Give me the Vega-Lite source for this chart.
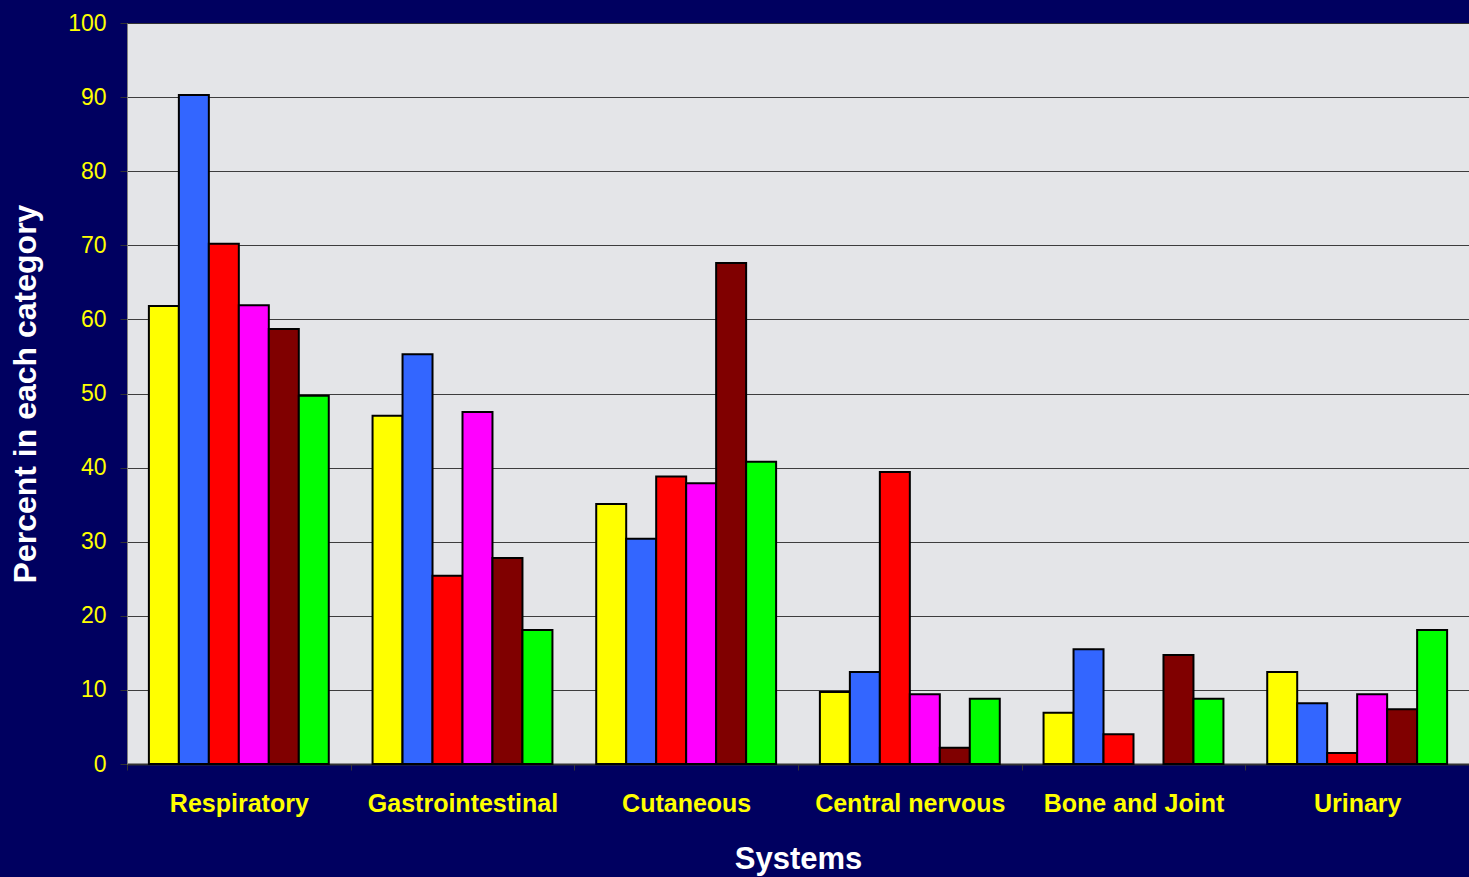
{
  "$schema": "https://vega.github.io/schema/vega-lite/v6.json",
  "autosize": "none",
  "width": 1342,
  "height": 741,
  "padding": {"left": 127, "top": 23, "right": 0, "bottom": 113},
  "background": "#000060",
  "config": {
    "view": {"fill": "#e4e5e8", "stroke": "#808080", "strokeWidth": 1},
    "font": "Liberation Sans"
  },
  "data": {
    "values": [
      {"system": "Respiratory", "series": "S1", "value": 61.8},
      {"system": "Respiratory", "series": "S2", "value": 90.3},
      {"system": "Respiratory", "series": "S3", "value": 70.2},
      {"system": "Respiratory", "series": "S4", "value": 61.9},
      {"system": "Respiratory", "series": "S5", "value": 58.7},
      {"system": "Respiratory", "series": "S6", "value": 49.7},
      {"system": "Gastrointestinal", "series": "S1", "value": 47.0},
      {"system": "Gastrointestinal", "series": "S2", "value": 55.3},
      {"system": "Gastrointestinal", "series": "S3", "value": 25.4},
      {"system": "Gastrointestinal", "series": "S4", "value": 47.5},
      {"system": "Gastrointestinal", "series": "S5", "value": 27.8},
      {"system": "Gastrointestinal", "series": "S6", "value": 18.1},
      {"system": "Cutaneous", "series": "S1", "value": 35.1},
      {"system": "Cutaneous", "series": "S2", "value": 30.4},
      {"system": "Cutaneous", "series": "S3", "value": 38.8},
      {"system": "Cutaneous", "series": "S4", "value": 37.9},
      {"system": "Cutaneous", "series": "S5", "value": 67.6},
      {"system": "Cutaneous", "series": "S6", "value": 40.8},
      {"system": "Central nervous", "series": "S1", "value": 9.7},
      {"system": "Central nervous", "series": "S2", "value": 12.4},
      {"system": "Central nervous", "series": "S3", "value": 39.4},
      {"system": "Central nervous", "series": "S4", "value": 9.4},
      {"system": "Central nervous", "series": "S5", "value": 2.2},
      {"system": "Central nervous", "series": "S6", "value": 8.8},
      {"system": "Bone and Joint", "series": "S1", "value": 6.9},
      {"system": "Bone and Joint", "series": "S2", "value": 15.5},
      {"system": "Bone and Joint", "series": "S3", "value": 4.0},
      {"system": "Bone and Joint", "series": "S4", "value": 0},
      {"system": "Bone and Joint", "series": "S5", "value": 14.7},
      {"system": "Bone and Joint", "series": "S6", "value": 8.8},
      {"system": "Urinary", "series": "S1", "value": 12.4},
      {"system": "Urinary", "series": "S2", "value": 8.2},
      {"system": "Urinary", "series": "S3", "value": 1.5},
      {"system": "Urinary", "series": "S4", "value": 9.4},
      {"system": "Urinary", "series": "S5", "value": 7.4},
      {"system": "Urinary", "series": "S6", "value": 18.1}
    ]
  },
  "transform": [{"filter": "datum.value > 0"}],
  "mark": {"type": "bar", "stroke": "#000000", "strokeWidth": 2},
  "encoding": {
    "x": {
      "field": "system",
      "type": "nominal",
      "sort": ["Respiratory", "Gastrointestinal", "Cutaneous", "Central nervous", "Bone and Joint", "Urinary"],
      "scale": {"paddingInner": 0, "paddingOuter": 0},
      "axis": {
        "title": "Systems",
        "titleColor": "#ffffff",
        "titleFontSize": 31,
        "titleFontWeight": "bold",
        "titlePadding": 28,
        "labelAngle": 0,
        "labelColor": "#ffff00",
        "labelFontSize": 25,
        "labelFontWeight": "bold",
        "labelPadding": 21,
        "labelLimit": 0,
        "tickBand": "extent",
        "tickSize": 6,
        "tickColor": "#333333",
        "domainColor": "#333333",
        "domainWidth": 2,
        "grid": false
      }
    },
    "xOffset": {
      "field": "series",
      "type": "nominal",
      "scale": {"paddingInner": 0, "paddingOuter": 0.73}
    },
    "y": {
      "field": "value",
      "type": "quantitative",
      "scale": {"domain": [0, 100], "nice": false},
      "axis": {
        "title": "Percent in each category",
        "titleColor": "#ffffff",
        "titleFontSize": 32,
        "titleFontWeight": "bold",
        "titlePadding": 25,
        "values": [0, 10, 20, 30, 40, 50, 60, 70, 80, 90, 100],
        "labelColor": "#ffff00",
        "labelFontSize": 23,
        "labelPadding": 14,
        "tickSize": 7,
        "tickColor": "#333333",
        "domainColor": "#808080",
        "grid": true,
        "gridColor": "#2a2a2a",
        "gridWidth": 1,
        "gridOpacity": 0.9
      }
    },
    "color": {
      "field": "series",
      "type": "nominal",
      "scale": {
        "domain": ["S1", "S2", "S3", "S4", "S5", "S6"],
        "range": ["#ffff00", "#3366ff", "#ff0000", "#ff00ff", "#800000", "#00ff00"]
      },
      "legend": null
    }
  }
}
